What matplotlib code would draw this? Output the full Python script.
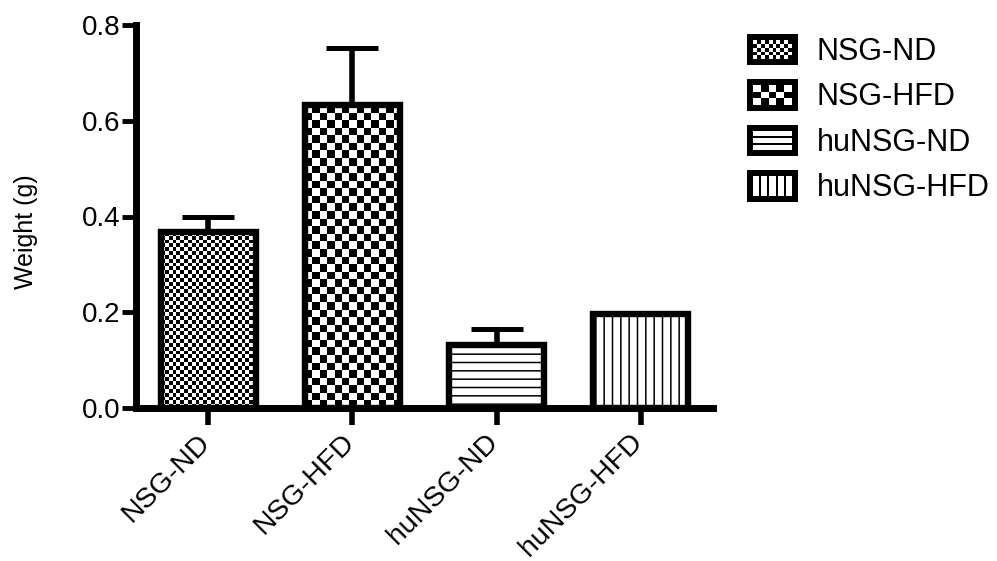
import numpy as np
import matplotlib
matplotlib.use("Agg")
import matplotlib.pyplot as plt
import matplotlib.transforms as mtransforms
from matplotlib.patches import Rectangle
from matplotlib.legend_handler import HandlerBase

plt.rcParams["font.family"] = ["Liberation Sans", "DejaVu Sans"]
plt.rcParams["hatch.linewidth"] = 1.1

# Group means and standard errors (g)
groups = ["NSG-ND", "NSG-HFD", "huNSG-ND", "huNSG-HFD"]
means = [0.367, 0.632, 0.132, 0.197]
sems = [0.031, 0.121, 0.032, 0.0]
fills = ["fine", "coarse", "hlines", "vlines"]
yticks = [0.0, 0.2, 0.4, 0.6, 0.8]


class PatternKey:
    def __init__(self, kind):
        self.kind = kind


class PatternHandler(HandlerBase):
    """Black framed swatch with a white pattern inside."""

    def create_artists(self, legend, orig_handle, xdescent, ydescent,
                       width, height, fontsize, trans):
        x0, y0 = -xdescent, -ydescent
        arts = [Rectangle((x0, y0), width, height, facecolor="black",
                          edgecolor="none", transform=trans)]
        b = 4.3
        ix, iy, iw, ih = x0 + b, y0 + b, width - 2 * b, height - 2 * b
        kind = orig_handle.kind
        white = []
        if kind in ("fine", "coarse"):
            nc, nr = (10, 5) if kind == "fine" else (5, 3)
            cw, ch = iw / nc, ih / nr
            for r in range(nr):
                for c in range(nc):
                    if (r + c) % 2 == 0:
                        white.append((ix + c * cw, iy + r * ch, cw, ch))
        elif kind == "hlines":
            n, g = 3, 1.6
            bh = (ih - (n - 1) * g) / n
            for k in range(n):
                white.append((ix, iy + k * (bh + g), iw, bh))
        else:
            n, g = 5, 1.6
            bw = (iw - (n - 1) * g) / n
            for k in range(n):
                white.append((ix + k * (bw + g), iy, bw, ih))
        for (wx, wy, ww, wh) in white:
            arts.append(Rectangle((wx, wy), ww, wh, facecolor="white",
                                  edgecolor="none", transform=trans))
        return arts


fig = plt.figure(figsize=(9.97, 5.61), dpi=100)
ax = fig.add_axes([136 / 997, 1 - 408 / 561, (713 - 136) / 997, (408 - 25) / 561])
ax.set_xlim(-0.5, 3.5)
ax.set_ylim(0, 0.8)

x = np.arange(len(groups))
width = 0.66
edge_lw = 4.6
hatch_map = {"hlines": "--", "vlines": "||"}
cell_px = {"fine": 3.8, "coarse": 7.5}

p0 = ax.transData.transform((0, 0))
p1 = ax.transData.transform((1, 1))
px_x, px_y = p1[0] - p0[0], p1[1] - p0[1]

for xi, m, kind in zip(x, means, fills):
    if kind in hatch_map:
        ax.bar(xi, m, width, facecolor="white", edgecolor="black",
               linewidth=edge_lw, hatch=hatch_map[kind], zorder=3)
    else:
        ax.bar(xi, m, width, facecolor="none", edgecolor="black",
               linewidth=edge_lw, zorder=3)
        nc = max(1, int(round(width * px_x / cell_px[kind])))
        nr = max(1, int(round(m * px_y / cell_px[kind])))
        checker = np.add.outer(np.arange(nr), np.arange(nc)) % 2
        ax.imshow(checker, cmap="gray", vmin=0, vmax=1, origin="lower",
                  extent=(xi - width / 2, xi + width / 2, 0, m),
                  interpolation="nearest", aspect="auto", zorder=2)

ax.errorbar(x, means, yerr=[np.zeros(len(sems)), sems], fmt="none",
            ecolor="black", elinewidth=4, capsize=18.7, capthick=3.6, zorder=1)

ax.set_xlim(-0.5, 3.5)
ax.set_ylim(0, 0.8)

for s in ("top", "right"):
    ax.spines[s].set_visible(False)
for s in ("left", "bottom"):
    ax.spines[s].set_linewidth(5)

ax.set_xticks(x)
ax.set_xticklabels(groups, rotation=45, ha="right", fontsize=20.5)
ax.tick_params(axis="x", length=12, width=4, pad=3)
shift = mtransforms.ScaledTranslation(7 / 100, 0, fig.dpi_scale_trans)
for lbl in ax.get_xticklabels():
    lbl.set_transform(lbl.get_transform() + shift)

ax.set_yticks(yticks)
ax.set_yticklabels([f"{v:.1f}" for v in yticks], fontsize=20)
ax.tick_params(axis="y", length=10, width=3.5, pad=1)

ax.set_ylabel("Weight (g)", fontsize=18)
ax.yaxis.set_label_coords(-0.170, 0.46)

handles = [PatternKey(k) for k in fills]
fig.legend(handles, groups, handler_map={PatternKey: PatternHandler()},
           loc="upper left", bbox_to_anchor=(747 / 997, 1 - 34 / 561),
           frameon=False, fontsize=22, handlelength=1.67, handleheight=1.2,
           handletextpad=0.62, labelspacing=0.41, borderpad=0, borderaxespad=0)

fig.savefig("out.png", dpi=100, facecolor="white")
